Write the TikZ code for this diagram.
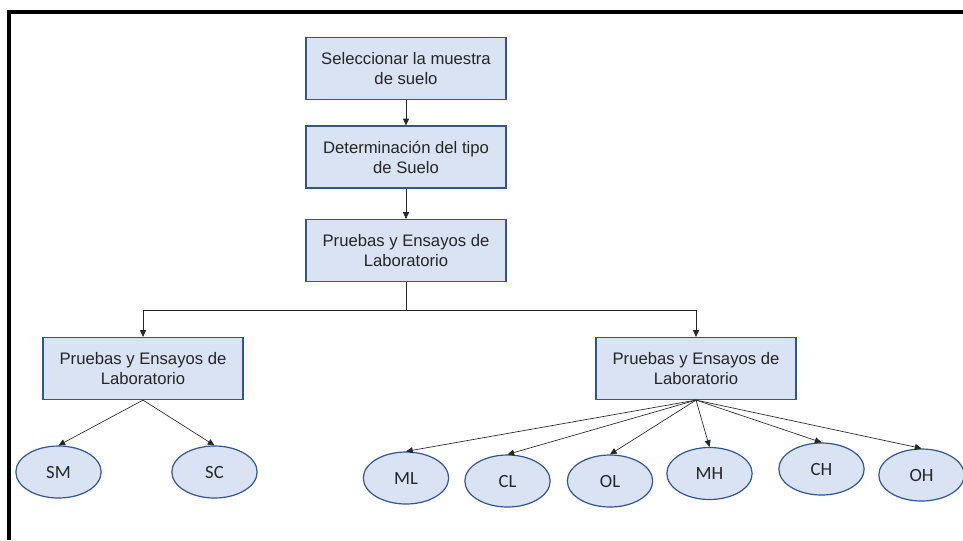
\documentclass[tikz,border=0pt]{standalone}
\usepackage{fontspec}
\setmainfont{Liberation Sans}
\newfontfamily\ovalfont{Carlito}
\usepackage{tikz}
\usetikzlibrary{arrows.meta,shapes.geometric}
\definecolor{cajafondo}{HTML}{DAE3F3}
\definecolor{cajaborde}{HTML}{2F5597}
\definecolor{texto}{HTML}{262626}
\tikzset{
    caja/.style={draw=cajaborde,fill=cajafondo,line width=0.9pt,minimum width=150pt,minimum height=46.5pt,inner sep=0pt,align=center,text=texto,font=\fontsize{12.5}{15}\selectfont},
    suelo/.style={ellipse,draw=cajaborde,fill=cajafondo,line width=0.9pt,minimum width=64pt,minimum height=39pt,inner sep=0pt,text=texto,font=\ovalfont\fontsize{14}{16}\selectfont},
    flecha/.style={draw=black!85,line width=0.5pt,-{Triangle[length=5pt,width=4.5pt]}}
}
\begin{document}
\begin{tikzpicture}[x=0.75pt,y=-0.75pt]
                    \useasboundingbox (0,0) rectangle (963,540);
                    \draw[line width=3pt] (9.3,540) -- (9.3,12) -- (963,12);

                    \node[caja] (sel) at (406,68.5) {Seleccionar la muestra\\de suelo};
                    \node[caja] (det) at (406,157) {Determinación del tipo\\de Suelo};
                    \node[caja] (pru) at (406,250.5) {Pruebas y Ensayos de\\Laboratorio};
                    \node[caja] (izq) at (143,368.5) {Pruebas y Ensayos de\\Laboratorio};
                    \node[caja] (der) at (696,368.5) {Pruebas y Ensayos de\\Laboratorio};
                    \coordinate (bus) at (406,310);

                    \node[suelo] (SM) at (58.5,472) {SM};
                    \node[suelo] (SC) at (214.5,472) {SC};
                    \node[suelo] (ML) at (406,478) {ML};
                    \node[suelo] (CL) at (507.5,481) {CL};
                    \node[suelo] (OL) at (610,481) {OL};
                    \node[suelo] (MH) at (709.5,473.5) {MH};
                    \node[suelo] (CH) at (821.5,469) {CH};
                    \node[suelo] (OH) at (921.5,475) {OH};

                    \draw[flecha] (sel) -- (det);
                    \draw[flecha] (det) -- (pru);
                    \draw[draw=black!85,line width=0.5pt] (pru.south) -- (bus);
                    \draw[flecha] (bus) -| (izq.north);
                    \draw[flecha] (bus) -| (der.north);
                    \foreach \s in {SM,SC}
                        \draw[flecha] (izq.south) -- (\s.north);
                    \foreach \s in {ML,CL,OL,MH,CH,OH}
                        \draw[flecha] (der.south) -- (\s.north);
\end{tikzpicture}
\end{document}
